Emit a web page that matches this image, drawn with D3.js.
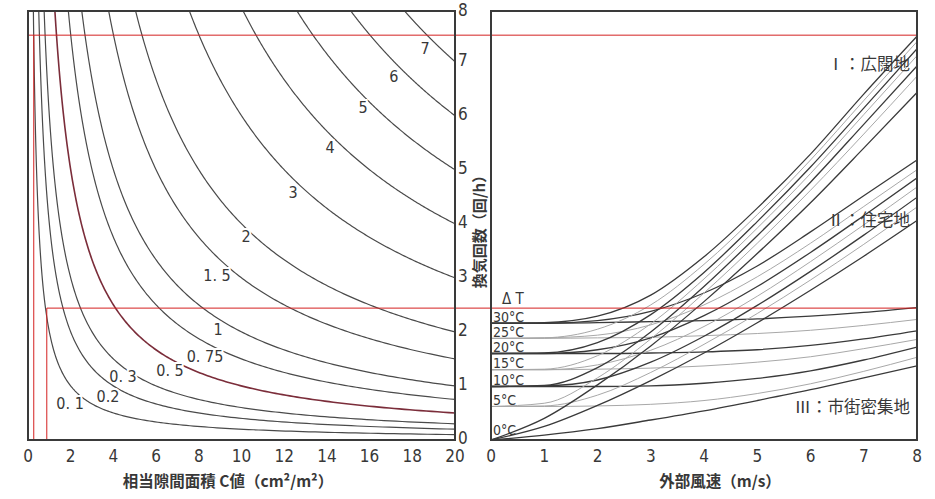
<!DOCTYPE html>
<html lang="ja">
<head>
<meta charset="UTF-8">
<title>換気回数の推定図</title>
<script src="https://cdn.jsdelivr.net/npm/d3@7"></script>
<style>
  * { margin: 0; padding: 0; }
  body { background: #fff; width: 935px; height: 499px; overflow: hidden; }
  svg { display: block; font-family: 'DejaVu Sans Condensed', 'DejaVu Sans', sans-serif; }
  .tick { font-size: 17px; fill: #383838; }
  .jp { font-family: 'Noto Sans CJK JP', sans-serif; fill: #383838; }
  .iso-label { font-size: 16px; fill: #383838; paint-order: stroke; stroke: #fff; stroke-width: 4px; }
  .dt-label { font-size: 14px; fill: #383838; }
  .frame { fill: none; stroke: #3a3a3a; stroke-width: 2; }
</style>
</head>
<body>
<svg id="chart" width="935" height="499"></svg>
<script>
// ─── Data ────────────────────────────────────────────────────────────────────

// left panel: C value axis, air change axis
const cTicks = [0, 2, 4, 6, 8, 10, 12, 14, 16, 18, 20];
const nTicks = [0, 1, 2, 3, 4, 5, 6, 7, 8];

// iso-lines of the left panel, each one reaches its own value at C = 20
const isoValues = [0.1, 0.2, 0.3, 0.5, 0.75, 1, 1.5, 2, 3, 4, 5, 6, 7];
const isoLabels = ['0. 1', '0.2', '0. 3', '0. 5', '0. 75', '1', '1. 5', '2', '3', '4', '5', '6', '7'];

// right panel: wind speed (m/s) and the air change rate read for each ΔT
const windSpeeds = [0, 1, 2, 3, 4, 5, 6, 7, 8];
const deltaT = [30, 25, 20, 15, 10, 5, 0];
const deltaTLabels = ['30°C', '25°C', '20°C', '15°C', '10°C', '5°C', '0°C'];

const zoneI = [
  [2.16, 2.17, 2.29, 2.68, 3.39, 4.29, 5.29, 6.40, 7.47],
  [1.88, 1.89, 2.05, 2.50, 3.25, 4.17, 5.18, 6.28, 7.37],
  [1.60, 1.61, 1.80, 2.32, 3.10, 4.04, 5.05, 6.14, 7.24],
  [1.30, 1.31, 1.56, 2.15, 2.98, 3.92, 4.93, 6.02, 7.11],
  [0.99, 1.01, 1.34, 2.00, 2.84, 3.78, 4.77, 5.84, 6.92],
  [0.62, 0.68, 1.15, 1.87, 2.72, 3.64, 4.62, 5.66, 6.73],
  [0.00, 0.40, 1.02, 1.74, 2.56, 3.45, 4.39, 5.40, 6.43],
];
const zoneII = [
  [2.16, 2.16, 2.21, 2.38, 2.72, 3.22, 3.85, 4.52, 5.18],
  [1.88, 1.89, 1.94, 2.13, 2.50, 3.02, 3.64, 4.32, 5.00],
  [1.60, 1.60, 1.67, 1.89, 2.30, 2.84, 3.47, 4.15, 4.85],
  [1.30, 1.30, 1.39, 1.66, 2.10, 2.66, 3.30, 3.98, 4.68],
  [0.99, 1.00, 1.11, 1.44, 1.92, 2.49, 3.12, 3.79, 4.49],
  [0.62, 0.63, 0.83, 1.25, 1.77, 2.34, 2.96, 3.62, 4.31],
  [0.00, 0.25, 0.64, 1.10, 1.61, 2.17, 2.77, 3.40, 4.06],
];
const zoneIII = [
  [2.16, 2.16, 2.17, 2.19, 2.21, 2.24, 2.29, 2.36, 2.45],
  [1.88, 1.88, 1.89, 1.90, 1.93, 1.97, 2.03, 2.12, 2.23],
  [1.60, 1.60, 1.60, 1.61, 1.63, 1.67, 1.75, 1.87, 2.02],
  [1.30, 1.30, 1.31, 1.33, 1.37, 1.44, 1.54, 1.69, 1.86],
  [0.99, 0.99, 0.99, 1.00, 1.05, 1.14, 1.28, 1.48, 1.72],
  [0.62, 0.62, 0.63, 0.66, 0.73, 0.86, 1.04, 1.27, 1.53],
  [0.00, 0.09, 0.21, 0.37, 0.54, 0.73, 0.93, 1.15, 1.37],
];
const zoneNames = ['Ⅰ：広闊地', 'Ⅱ：住宅地', 'Ⅲ：市街密集地'];

// the two worked examples drawn in red (C value, air change rate)
const exampleC = [0.27, 0.88];
const exampleN = [7.49, 2.44];

// ─── Layout ──────────────────────────────────────────────────────────────────

const LEFT  = { x0: 28,  x1: 455 };
const RIGHT = { x0: 491, x1: 917 };
const TOP = 11, BOTTOM = 440;

// label anchors for the iso-lines, in data units (C, n)
const isoLabelAt = [
  [1.97, 0.68], [3.75, 0.80], [4.45, 1.18], [6.65, 1.28], [8.29, 1.55], [8.90, 2.04],
  [8.85, 3.05], [10.21, 3.76], [12.41, 4.57], [14.15, 5.42], [15.69, 6.16], [17.14, 6.72], [18.60, 7.25],
];
const zoneLabelAt = [[910, 70], [910, 226], [910, 413]];

const svg = d3.select('#chart');

const xC = d3.scaleLinear().domain([0, 20]).range([LEFT.x0, LEFT.x1]);
const xV = d3.scaleLinear().domain([0, 8]).range([RIGHT.x0, RIGHT.x1]);
const y  = d3.scaleLinear().domain([0, 8]).range([BOTTOM, BOTTOM - 8 * 54.05]);

const defs = svg.append('defs');
defs.append('clipPath').attr('id', 'clipL').append('rect')
  .attr('x', LEFT.x0).attr('y', TOP).attr('width', LEFT.x1 - LEFT.x0).attr('height', BOTTOM - TOP);
defs.append('clipPath').attr('id', 'clipR').append('rect')
  .attr('x', RIGHT.x0).attr('y', TOP).attr('width', RIGHT.x1 - RIGHT.x0).attr('height', BOTTOM - TOP);

// ─── Left panel: iso-lines ───────────────────────────────────────────────────

const gL = svg.append('g').attr('clip-path', 'url(#clipL)');
const isoLine = d3.line().x(d => xC(d[0])).y(d => y(d[1]));

isoValues.forEach((k, i) => {
  // n * C = 20k : sample C geometrically from the top edge to C = 20
  const cMin = 20 * k / 8.2;
  const pts = d3.range(0, 1.0001, 0.005).map(t => {
    const c = cMin * Math.pow(20 / cMin, t);
    return [c, 20 * k / c];
  });
  const red = k === 0.5;
  gL.append('path')
    .attr('d', isoLine(pts))
    .attr('fill', 'none')
    .attr('stroke', red ? '#7b2d3a' : '#4a4a4a')
    .attr('stroke-width', red ? 1.6 : 1.2);
});

svg.append('g').selectAll('text')
  .data(isoLabels)
  .join('text')
  .attr('class', 'iso-label')
  .attr('x', (d, i) => xC(isoLabelAt[i][0]))
  .attr('y', (d, i) => y(isoLabelAt[i][1]))
  .attr('text-anchor', 'middle')
  .attr('dominant-baseline', 'central')
  .text(d => d);

// ─── Right panel: zone curves ────────────────────────────────────────────────

const gR = svg.append('g').attr('clip-path', 'url(#clipR)');
const windLine = d3.line()
  .x((d, i) => xV(windSpeeds[i]))
  .y(d => y(d))
  .curve(d3.curveMonotoneX);

[zoneIII, zoneII, zoneI].forEach(zone => {
  zone.forEach((row, j) => {
    const dark = deltaT[j] % 10 === 0;
    gR.append('path')
      .attr('d', windLine(row))
      .attr('fill', 'none')
      .attr('stroke', dark ? '#3a3a3a' : '#a8a8a8')
      .attr('stroke-width', dark ? 1.3 : 1);
  });
});

// ΔT labels sit on their flat start at V = 0
svg.append('g').selectAll('text')
  .data(deltaTLabels)
  .join('text')
  .attr('class', 'dt-label')
  .attr('x', RIGHT.x0 + 2)
  .attr('y', (d, j) => Math.min(y(zoneIII[j][0]) - 1.5, BOTTOM - 5))
  .text(d => d);

svg.append('text')
  .attr('class', 'tick')
  .attr('x', 502).attr('y', 304)
  .style('font-size', '15px')
  .text('Δ T');

svg.append('g').selectAll('text')
  .data(zoneNames)
  .join('text')
  .attr('class', 'jp')
  .attr('x', (d, i) => zoneLabelAt[i][0])
  .attr('y', (d, i) => zoneLabelAt[i][1])
  .attr('text-anchor', 'end')
  .style('font-size', '16.5px')
  .text(d => d);

// ─── Red example lines ───────────────────────────────────────────────────────

const gEx = svg.append('g').attr('stroke', '#d42020').attr('stroke-width', 1);
exampleC.forEach((c, i) => {
  gEx.append('line')
    .attr('x1', xC(c)).attr('x2', xC(c))
    .attr('y1', y(exampleN[i])).attr('y2', BOTTOM);
  gEx.append('line')
    .attr('x1', i === 0 ? LEFT.x0 : xC(c)).attr('x2', RIGHT.x1)
    .attr('y1', y(exampleN[i])).attr('y2', y(exampleN[i]));
});

// ─── Frames and axes ─────────────────────────────────────────────────────────

svg.append('rect').attr('class', 'frame')
  .attr('x', LEFT.x0).attr('y', TOP).attr('width', LEFT.x1 - LEFT.x0).attr('height', BOTTOM - TOP);
svg.append('rect').attr('class', 'frame')
  .attr('x', RIGHT.x0).attr('y', TOP).attr('width', RIGHT.x1 - RIGHT.x0).attr('height', BOTTOM - TOP);

svg.append('g').selectAll('text')
  .data(cTicks)
  .join('text')
  .attr('class', 'tick')
  .attr('x', d => xC(d))
  .attr('y', 462)
  .attr('text-anchor', 'middle')
  .text(d => d);

svg.append('g').selectAll('text')
  .data(windSpeeds)
  .join('text')
  .attr('class', 'tick')
  .attr('x', d => xV(d))
  .attr('y', 462)
  .attr('text-anchor', 'middle')
  .text(d => d);

svg.append('g').selectAll('text')
  .data(nTicks)
  .join('text')
  .attr('class', 'tick')
  .attr('x', LEFT.x1 + 3)
  .attr('y', d => Math.max(y(d) - 2, 10))
  .attr('dominant-baseline', 'central')
  .text(d => d);

svg.append('text')
  .attr('class', 'jp')
  .attr('transform', 'translate(478,228) rotate(-90)')
  .attr('text-anchor', 'middle')
  .attr('dominant-baseline', 'central')
  .style('font-size', '15px')
  .style('font-weight', 'bold')
  .text('換気回数（回/h）');

svg.append('text')
  .attr('class', 'jp')
  .attr('x', 228).attr('y', 487)
  .attr('text-anchor', 'middle')
  .style('font-size', '15.5px')
  .style('font-weight', 'bold')
  .text('相当隙間面積 C値（cm²/m²）');

svg.append('text')
  .attr('class', 'jp')
  .attr('x', 720).attr('y', 487)
  .attr('text-anchor', 'middle')
  .style('font-size', '15.5px')
  .style('font-weight', 'bold')
  .text('外部風速（m/s）');
</script>
</body>
</html>
